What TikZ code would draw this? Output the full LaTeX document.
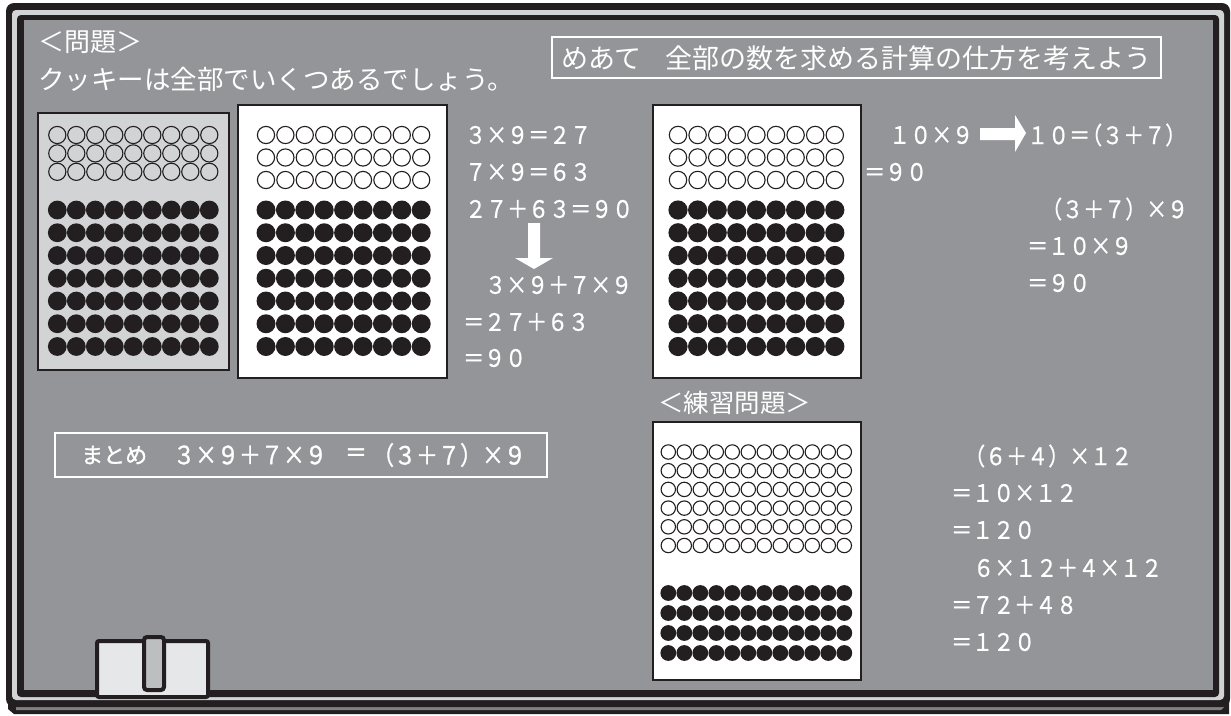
\documentclass[tikz,border=0pt]{standalone}
\usepackage{fontspec}
\newfontfamily\jpf{Noto Sans CJK JP}
\newfontfamily\eqf[FakeStretch=0.875,FakeBold=0.8]{Noto Sans CJK JP}
\newfontfamily\eqfb[FakeStretch=0.875,FakeBold=1.2]{Noto Sans CJK JP}
\newfontfamily\jpfb[FakeBold=1.2]{Noto Sans CJK JP}
\definecolor{blk}{HTML}{231F20}
\definecolor{board}{HTML}{939598}
\definecolor{lightg}{HTML}{D1D3D4}
\definecolor{eraserc}{HTML}{E6E7E8}
\definecolor{handlec}{HTML}{BCBEC0}
\definecolor{trayg}{HTML}{808285}
\begin{document}
\begin{tikzpicture}[x=1pt,y=-1pt,
  jp/.style={text=white, inner sep=0pt, anchor=west, font=\jpf\fontsize{#1}{#1}\selectfont},
  eq/.style={text=white, inner sep=0pt, anchor=west, font=\eqf\fontsize{#1}{#1}\selectfont},
  eq/.default=24,
  card/.style={draw=blk, line width=2pt},
  opencirc/.style={draw=blk, line width=1.1pt},
  fullcirc/.style={fill=blk},
  wbox/.style={draw=white, line width=2.5pt},
  blockarrow/.style={fill=white}]
\useasboundingbox (0,0) rectangle (1231,715);
% ---- frame ----
\fill[blk] (8,699) -- (1229,699) -- (1229,714) -- (14,714) -- (8,709) -- cycle;
\fill[trayg] (16,707) -- (1224,707) -- (1221,710) -- (16,710) -- cycle;
\fill[blk, rounded corners=8pt] (6,3) rectangle (1230,707);
\fill[lightg, rounded corners=4pt] (12,10) rectangle (1224,700);
\fill[blk, rounded corners=4pt] (17,15) rectangle (1219,697);
\fill[board] (24,20) rectangle (1213,690);
% ---- eraser ----
\draw[blk, fill=eraserc, line width=4pt, rounded corners=2pt] (97,641) rectangle (208,697);
\draw[blk, fill=handlec, line width=4pt, rounded corners=3pt] (144,637) rectangle (164,690);
% ---- title texts ----
\node[jp=26] (mondai) at (38,42) {＜問題＞};
\node[jp=26.5] (question) at (38,79) {クッキーは全部でいくつあるでしょう。};
\draw[wbox] (552,37) rectangle (1161,78);
\node[jp=27] (meate) at (561,58) {めあて\hspace{24pt}全部の数を求める計算の仕方を考えよう};
% ---- card 1 (grey) ----
\draw[card, fill=lightg] (38,113) rectangle (229,370);
\foreach \r in {0,1,2} \foreach \c in {0,...,8}
  \draw[opencirc] ({57.3+19*\c},{135+18.4*\r}) circle (8.6pt);
\foreach \r in {0,...,6} \foreach \c in {0,...,8}
  \fill[fullcirc] ({57.3+19*\c},{210+22.75*\r}) circle (9.4pt);
% ---- card 2 ----
\draw[card, fill=white] (238,105) rectangle (447,378);
\foreach \r in {0,1,2} \foreach \c in {0,...,8}
  \draw[opencirc] ({266+19.4*\c},{135+22.5*\r}) circle (8.6pt);
\foreach \r in {0,...,6} \foreach \c in {0,...,8}
  \fill[fullcirc] ({266+19.4*\c},{210+22.75*\r}) circle (9.5pt);
% ---- card 3 ----
\draw[card, fill=white] (653,105) rectangle (861,378);
\foreach \r in {0,1,2} \foreach \c in {0,...,8}
  \draw[opencirc] ({678+19.6*\c},{135+22.5*\r}) circle (8.7pt);
\foreach \r in {0,...,6} \foreach \c in {0,...,8}
  \fill[fullcirc] ({678+19.6*\c},{210+22.75*\r}) circle (9.6pt);
% ---- card 4 ----
\node[jp=25.5] (renshu) at (658,403) {＜練習問題＞};
\draw[card, fill=white] (653,422) rectangle (861,680);
\foreach \r in {0,...,5} \foreach \c in {0,...,11}
  \draw[opencirc] ({668.3+16*\c},{452+18.7*\r}) circle (7.2pt);
\foreach \r in {0,...,3} \foreach \c in {0,...,11}
  \fill[fullcirc] ({668.3+16*\c},{593+20*\r}) circle (7.9pt);
% ---- equations block 1 ----
\node[eq] (e1) at (465,135) {３×９＝２７};
\node[eq] (e2) at (465,172) {７×９＝６３};
\node[eq] (e3) at (465,209) {２７＋６３＝９０};
\fill[blockarrow] (528,223) -- (540,223) -- (540,258) -- (553,258) -- (534,269) -- (515,258) -- (528,258) -- cycle;
\node[eq] (e4) at (485,285) {３×９＋７×９};
\node[eq] (e5) at (463,322) {＝２７＋６３};
\node[eq] (e6) at (463,358) {＝９０};
% ---- equations block 2 ----
\node[eq] (f1) at (889,135) {１０×９};
\fill[blockarrow] (980,128) -- (1015,128) -- (1015,115) -- (1026,133) -- (1015,152) -- (1015,140) -- (980,140) -- cycle;
\node[eq] (f2) at (1027,135) {１０＝\hspace{-9pt}（３＋７）};
\node[eq] (f3) at (864,172) {＝９０};
\node[eq] (f4) at (1041,209) {（３＋７）×９};
\node[eq] (f5) at (1027,246) {＝１０×９};
\node[eq] (f6) at (1027,283) {＝９０};
% ---- equations block 3 ----
\node[eq] (g1) at (964,456) {（６＋４）×１２};
\node[eq] (g2) at (951,493) {＝１０×１２};
\node[eq] (g3) at (951,530) {＝１２０};
\node[eq] (g4) at (973,568) {６×１２＋４×１２};
\node[eq] (g5) at (951,605) {＝７２＋４８};
\node[eq] (g6) at (951,642) {＝１２０};
% ---- matome box ----
\draw[wbox] (55,433) rectangle (547,477);
\node[text=white, inner sep=0pt, anchor=west, font=\jpfb\fontsize{22}{22}\selectfont] (matome) at (81,455) {まとめ};
\node[text=white, inner sep=0pt, anchor=west, font=\eqfb\fontsize{25.1}{25.1}\selectfont] (m1) at (173,455) {３×９＋７×９};
\node[text=white, inner sep=0pt, anchor=center, font=\eqfb\fontsize{25.1}{25.1}\selectfont] (m2) at (356,455) {＝};
\node[text=white, inner sep=0pt, anchor=west, font=\eqfb\fontsize{25.1}{25.1}\selectfont] (m3) at (372,455) {（３＋７）×９};
\end{tikzpicture}
\end{document}
